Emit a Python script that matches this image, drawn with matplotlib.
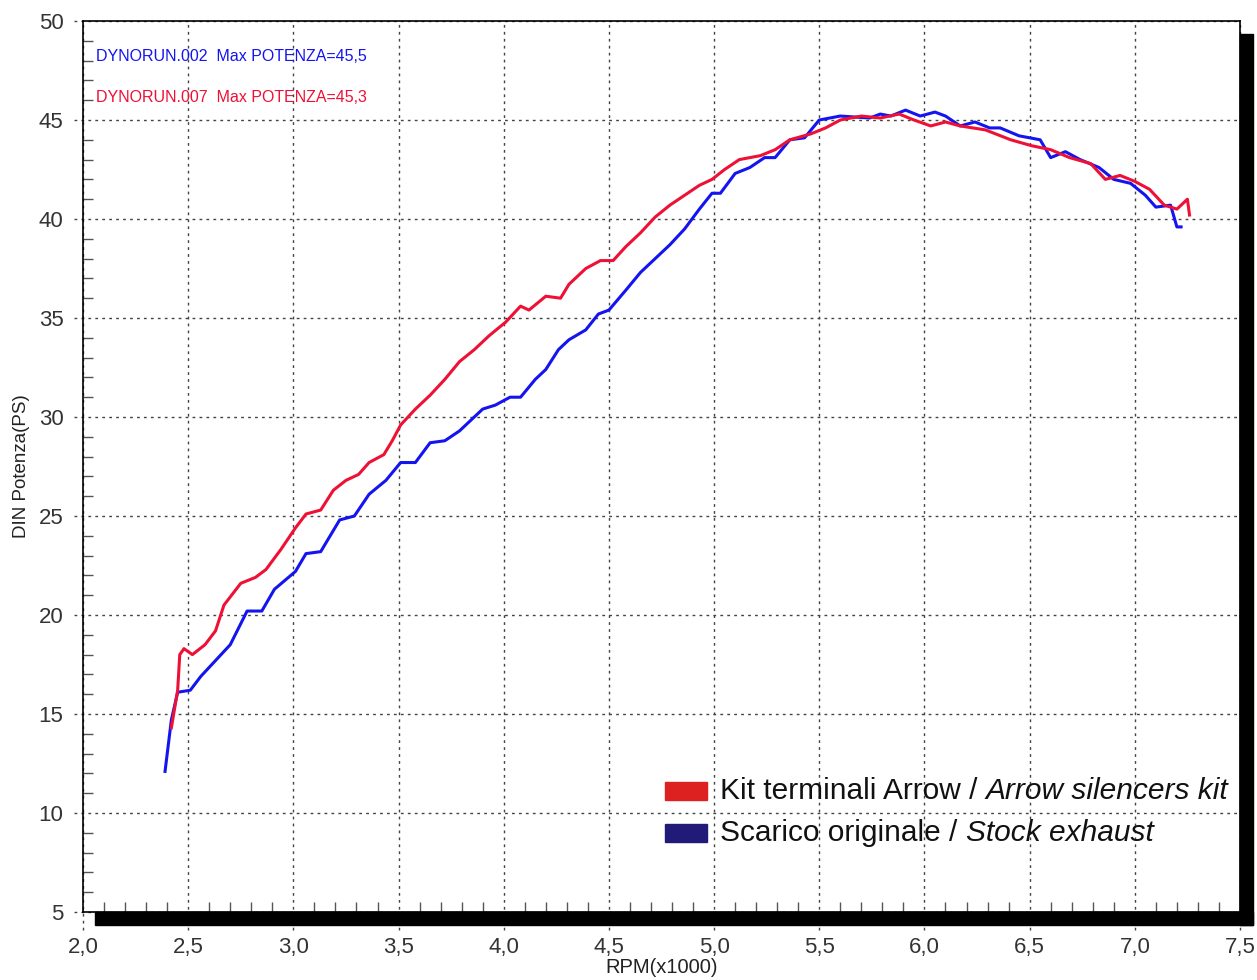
import matplotlib
matplotlib.use("Agg")
import matplotlib.pyplot as plt
from matplotlib.patches import Rectangle
from matplotlib.ticker import MultipleLocator, FuncFormatter

plt.rcParams['font.family'] = ['Liberation Sans', 'DejaVu Sans']

# Scarico originale (DYNORUN.002)
stock_rpm = [2.39, 2.42, 2.45, 2.51, 2.56, 2.63, 2.70, 2.78, 2.85, 2.91, 3.01, 3.06, 3.13,
             3.22, 3.29, 3.36, 3.44, 3.51, 3.58, 3.65, 3.72, 3.79, 3.84, 3.90, 3.96, 4.03,
             4.08, 4.15, 4.20, 4.26, 4.31, 4.39, 4.45, 4.50, 4.58, 4.65, 4.72, 4.79, 4.86,
             4.93, 4.99, 5.03, 5.10, 5.17, 5.24, 5.29, 5.36, 5.43, 5.50, 5.60, 5.74, 5.79,
             5.84, 5.91, 5.98, 6.05, 6.10, 6.17, 6.24, 6.31, 6.36, 6.45, 6.55, 6.60, 6.67,
             6.74, 6.83, 6.90, 6.98, 7.05, 7.10, 7.17, 7.20, 7.22]
stock_ps = [12.1, 14.7, 16.1, 16.2, 16.9, 17.7, 18.5, 20.2, 20.2, 21.3, 22.2, 23.1, 23.2,
            24.8, 25.0, 26.1, 26.8, 27.7, 27.7, 28.7, 28.8, 29.3, 29.8, 30.4, 30.6, 31.0,
            31.0, 31.9, 32.4, 33.4, 33.9, 34.4, 35.2, 35.4, 36.4, 37.3, 38.0, 38.7, 39.5,
            40.5, 41.3, 41.3, 42.3, 42.6, 43.1, 43.1, 44.0, 44.1, 45.0, 45.2, 45.1, 45.3,
            45.2, 45.5, 45.2, 45.4, 45.2, 44.7, 44.9, 44.6, 44.6, 44.2, 44.0, 43.1, 43.4,
            43.0, 42.6, 42.0, 41.8, 41.2, 40.6, 40.7, 39.6, 39.6]

# Kit terminali Arrow (DYNORUN.007)
arrow_rpm = [2.42, 2.45, 2.46, 2.48, 2.52, 2.58, 2.63, 2.67, 2.75, 2.82, 2.87, 2.94, 3.01,
             3.06, 3.13, 3.19, 3.25, 3.31, 3.36, 3.43, 3.47, 3.51, 3.58, 3.65, 3.72, 3.79,
             3.86, 3.93, 4.01, 4.08, 4.12, 4.20, 4.27, 4.31, 4.39, 4.46, 4.52, 4.58, 4.65,
             4.72, 4.79, 4.86, 4.93, 4.99, 5.05, 5.12, 5.22, 5.29, 5.36, 5.46, 5.53, 5.60,
             5.70, 5.79, 5.88, 5.95, 6.03, 6.10, 6.17, 6.29, 6.41, 6.51, 6.60, 6.69, 6.79,
             6.86, 6.93, 7.00, 7.07, 7.14, 7.20, 7.25, 7.26]
arrow_ps = [14.3, 16.2, 18.0, 18.3, 18.0, 18.5, 19.2, 20.5, 21.6, 21.9, 22.3, 23.3, 24.4,
            25.1, 25.3, 26.3, 26.8, 27.1, 27.7, 28.1, 28.8, 29.6, 30.4, 31.1, 31.9, 32.8,
            33.4, 34.1, 34.8, 35.6, 35.4, 36.1, 36.0, 36.7, 37.5, 37.9, 37.9, 38.6, 39.3,
            40.1, 40.7, 41.2, 41.7, 42.0, 42.5, 43.0, 43.2, 43.5, 44.0, 44.3, 44.6, 45.0,
            45.2, 45.1, 45.3, 45.0, 44.7, 44.9, 44.7, 44.5, 44.0, 43.7, 43.5, 43.1, 42.8,
            42.0, 42.2, 41.9, 41.5, 40.7, 40.5, 41.0, 40.2]

x_major = [2.0, 2.5, 3.0, 3.5, 4.0, 4.5, 5.0, 5.5, 6.0, 6.5, 7.0, 7.5]
y_major = [5, 10, 15, 20, 25, 30, 35, 40, 45, 50]

blue = '#1414f0'
red = '#ee1035'
grid_col = '#444444'

fig = plt.figure(figsize=(12.57, 9.8), dpi=100)
ax = fig.add_axes([83 / 1257, 1 - 912 / 980, (1240 - 83) / 1257, (912 - 21) / 980])
ax.set_xlim(2.0, 7.5)
ax.set_ylim(5, 50)

# dotted grid, extended a little past the frame like the dyno printout
for xv in x_major:
    ax.axvline(xv, ymin=-0.02, ymax=1, color=grid_col, lw=1, ls=(0, (2, 3)),
               clip_on=False, zorder=1)
for yv in y_major:
    ax.axhline(yv, xmin=-0.008, xmax=1, color=grid_col, lw=1, ls=(0, (2, 3)),
               clip_on=False, zorder=1)

ax.plot(stock_rpm, stock_ps, color=blue, lw=2.2, zorder=3)
ax.plot(arrow_rpm, arrow_ps, color=red, lw=2.2, zorder=4)

ax.xaxis.set_major_locator(MultipleLocator(0.5))
ax.yaxis.set_major_locator(MultipleLocator(5))
ax.xaxis.set_minor_locator(MultipleLocator(0.1))
ax.yaxis.set_minor_locator(MultipleLocator(1))
ax.xaxis.set_major_formatter(FuncFormatter(lambda v, p: f"{v:.1f}".replace('.', ',')))
ax.yaxis.set_major_formatter(FuncFormatter(lambda v, p: f"{v:.0f}"))
ax.tick_params(axis='both', which='major', length=0, labelsize=16, labelcolor='#333333')
ax.tick_params(axis='x', which='major', pad=18)
ax.tick_params(axis='y', which='major', pad=14)
ax.tick_params(axis='both', which='minor', direction='in', length=7, width=1,
               color='#555555')

for side in ['top', 'left', 'right', 'bottom']:
    ax.spines[side].set_linewidth(1.2)
    ax.spines[side].set_color('black')

# heavy drop-shadow along bottom and right edge
fig.patches.append(Rectangle((95 / 1257, 1 - 925 / 980), (1253 - 95) / 1257, 13 / 980,
                             transform=fig.transFigure, color='black', zorder=5))
fig.patches.append(Rectangle((1240 / 1257, 1 - 925 / 980), 13 / 1257, (925 - 34) / 980,
                             transform=fig.transFigure, color='black', zorder=5))

ax.set_xlabel('RPM(x1000)', fontsize=14.5, color='#222222', labelpad=0)
ax.set_ylabel('DIN Potenza(PS)', fontsize=13.5, color='#222222', labelpad=6)

ax.text(0.011, 0.9596, 'DYNORUN.002  Max POTENZA=45,5', transform=ax.transAxes,
        color=blue, fontsize=11.5, va='center')
ax.text(0.011, 0.9147, 'DYNORUN.007  Max POTENZA=45,3', transform=ax.transAxes,
        color=red, fontsize=11.5, va='center')

# legend, drawn by hand: patch + normal text + italic text
legend_rows = [
    ('Kit terminali Arrow / ', 'Arrow silencers kit', '#dd2020', 791),
    ('Scarico originale / ', 'Stock exhaust', '#221a78', 833),
]
for normal, italic, col, ypix in legend_rows:
    yf = 1 - ypix / 980
    fig.patches.append(Rectangle((665 / 1257, yf - 9 / 980), 42 / 1257, 18 / 980,
                                 transform=fig.transFigure, color=col, zorder=6))
    t1 = fig.text(720 / 1257, yf, normal, fontsize=21.5, va='center', color='#111111')
    ax.annotate(italic, xy=(1, 0), xycoords=t1, va='bottom', ha='left',
                fontsize=21.5, style='italic', color='#111111', annotation_clip=False)

fig.savefig('out.png', dpi=100)
